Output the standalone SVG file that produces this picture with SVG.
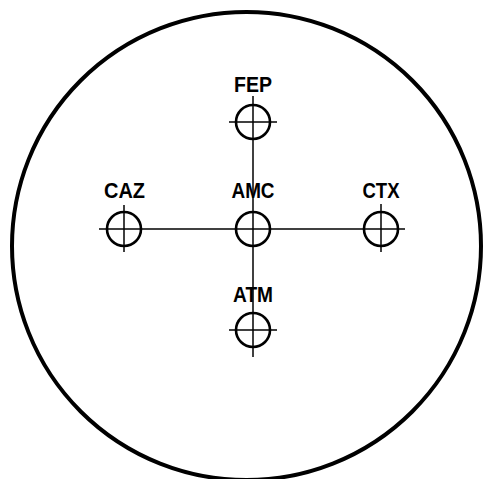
<svg xmlns="http://www.w3.org/2000/svg" width="485" height="479" viewBox="0 0 485 479">
<style>
.ring{fill:none;stroke:#000;stroke-width:2.6}
.hair{stroke:#000;stroke-width:1.5;fill:none}
.lbl{font-family:"Liberation Sans",Arial,sans-serif;font-weight:bold;font-size:22px;fill:#000;text-anchor:middle}
</style>
<rect width="485" height="479" fill="#fff"/>
<ellipse cx="246.5" cy="246" rx="234.5" ry="234" fill="none" stroke="#000" stroke-width="4"/>
<g id="connectors">
<line class="hair" x1="99" y1="229" x2="405" y2="229"/>
<line class="hair" x1="253" y1="96" x2="253" y2="357"/>
</g>
<g id="FEP">
<circle class="ring" cx="253" cy="122" r="17"/>
<line class="hair" x1="229" y1="122" x2="277" y2="122"/>
<text class="lbl" x="253" y="92" textLength="38" lengthAdjust="spacingAndGlyphs">FEP</text>
</g>
<g id="CAZ">
<circle class="ring" cx="124" cy="229" r="17"/>
<line class="hair" x1="124" y1="205" x2="124" y2="252"/>
<text class="lbl" x="124.5" y="198" textLength="41" lengthAdjust="spacingAndGlyphs">CAZ</text>
</g>
<g id="AMC">
<circle class="ring" cx="253" cy="229" r="17"/>
<text class="lbl" x="253" y="198" textLength="43" lengthAdjust="spacingAndGlyphs">AMC</text>
</g>
<g id="CTX">
<circle class="ring" cx="381" cy="229" r="17"/>
<line class="hair" x1="381" y1="204" x2="381" y2="252"/>
<text class="lbl" x="381" y="198" textLength="37" lengthAdjust="spacingAndGlyphs">CTX</text>
</g>
<g id="ATM">
<circle class="ring" cx="253" cy="330" r="17"/>
<line class="hair" x1="229" y1="330" x2="277" y2="330"/>
<text class="lbl" x="253" y="302" textLength="40" lengthAdjust="spacingAndGlyphs">ATM</text>
</g>
</svg>
